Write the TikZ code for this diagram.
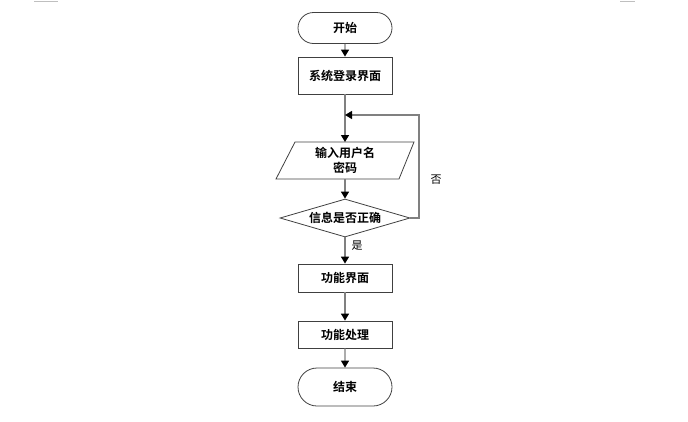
\documentclass[tikz,border=0pt]{standalone}
\usepackage{fontspec}
\newfontfamily\cjk{Noto Sans CJK SC Bold}
\newfontfamily\cjkr{Noto Sans CJK SC}
\usetikzlibrary{arrows.meta,shapes.geometric,shapes.misc}
\begin{document}
\begin{tikzpicture}[x=1pt,y=-1pt,
  boxline/.style={draw=black!75,line width=0.8pt},
  termbox/.style={boxline,rounded rectangle,minimum width=94pt,minimum height=31pt,inner sep=0pt,font=\cjk\fontsize{12}{14}\selectfont},
  procbox/.style={boxline,rectangle,minimum width=94pt,inner sep=0pt,font=\cjk\fontsize{12}{14}\selectfont},
  conn/.style={draw=black!50,line width=1.4pt,-{Triangle[width=8pt,length=7pt,color=black]}},
  plainconn/.style={draw=black!50,line width=1.4pt},
  lbl/.style={font=\cjkr\fontsize{11}{13}\selectfont,inner sep=0pt}
]
\useasboundingbox (0,0) rectangle (688,421);
\draw[black!25,line width=0.8pt] (34,1) -- (58,1);
\draw[black!25,line width=0.8pt] (620,1) -- (635,1);

\node[termbox] (start) at (345,28) {开始};
\node[procbox,minimum height=37pt] (login) at (345,75.5) {系统登录界面};
\coordinate (join) at (345,115);
\draw[boxline] (295,142) coordinate (p1) -- (414,142) -- (399,179) -- (276,179) -- cycle;
\node[font=\cjk\fontsize{12}{15}\selectfont,align=center,inner sep=0pt] (input) at (345,160.5) {输入用户名\\密码};
\coordinate (intop) at (345,142);
\coordinate (inbot) at (345,179);
\node[boxline,diamond,aspect=3.4,minimum width=130pt,minimum height=38pt,inner sep=0pt,font=\cjk\fontsize{12}{14}\selectfont] (check) at (345,218) {信息是否正确};
\node[procbox,minimum height=28pt] (func) at (345,278) {功能界面};
\node[procbox,minimum height=27pt] (proc) at (345,334.5) {功能处理};
\node[termbox,minimum height=38pt] (end) at (345,387) {结束};

\draw[conn] (start) -- (login);
\draw[plainconn] (login) -- (join);
\draw[conn] (join) -- (intop);
\draw[conn] (inbot) -- (check.north);
\draw[conn] (check.south) -- node[lbl,pos=0.3,right=6pt] (yes) {是} (func);
\draw[conn] (func) -- (proc);
\draw[conn] (proc) -- (end);
\draw[plainconn,-{Triangle[width=8pt,length=7pt,color=black]}] (check.east) -- (419,218) -- (419,115) -- (join);
\node[lbl] (no) at (436,180) {否};
\end{tikzpicture}
\end{document}
